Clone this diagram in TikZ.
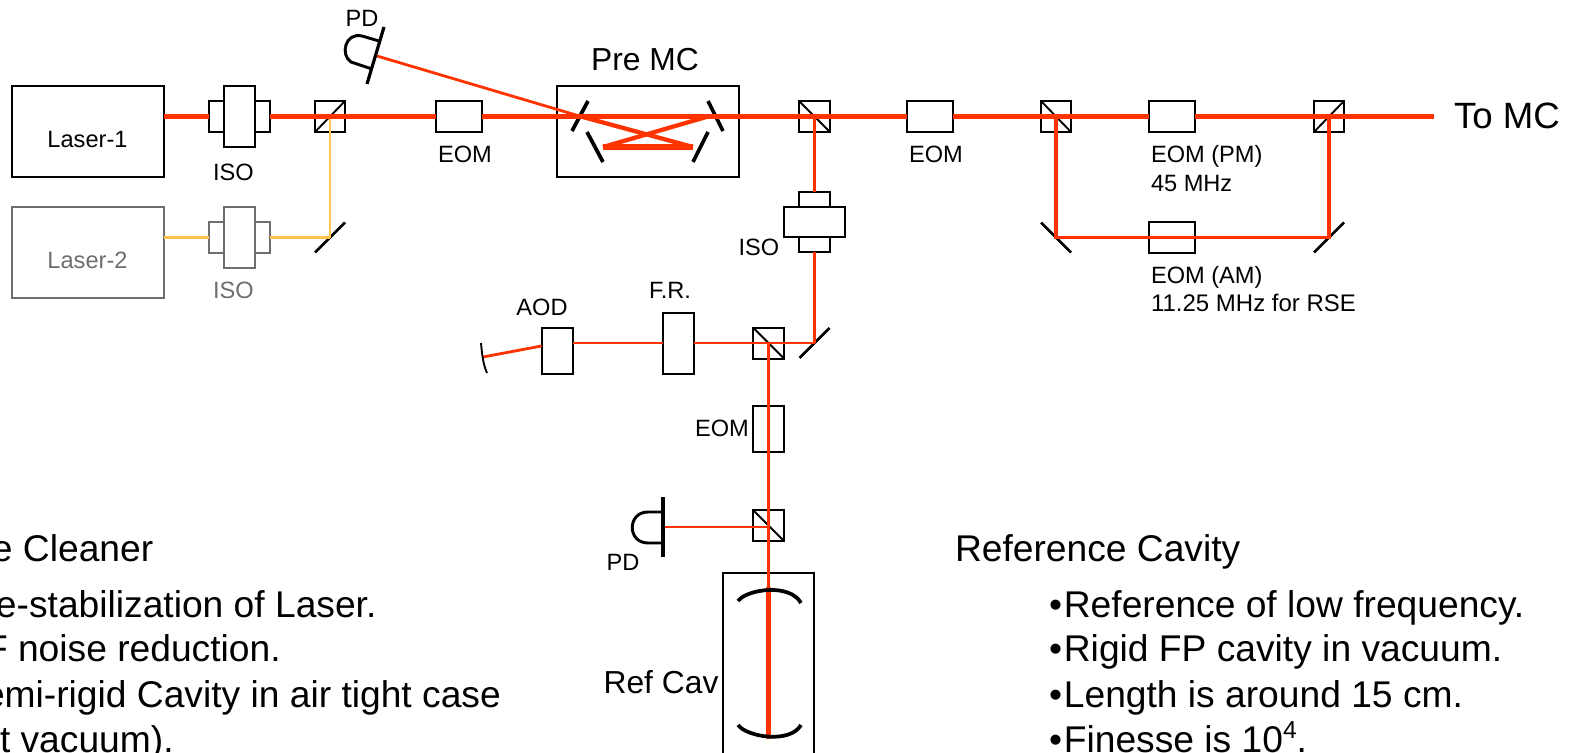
\documentclass[tikz,border=0pt]{standalone}
\usepackage{fontspec}
\usetikzlibrary{calc}
\setmainfont{Liberation Sans}
\newcommand{\fpx}[1]{\fontsize{\fpeval{#1*0.75}pt}{\fpeval{#1*0.9}pt}\selectfont}
\definecolor{beamred}{HTML}{FF3300}
\definecolor{beamyel}{HTML}{FFC34D}
\definecolor{dimgrey}{HTML}{6E6E6E}
\tikzset{
  bx/.style 2 args={draw=black,fill=white,line width=1.5pt,rectangle,inner sep=0pt,outer sep=0pt,
     minimum width=#1*0.75pt,minimum height=#2*0.75pt},
  lab/.style={inner sep=0pt,outer sep=0pt,text=black,font=\fpx{23.6}},
  big/.style={inner sep=0pt,outer sep=0pt,text=black,font=\fpx{31.8},anchor=center},
  info/.style={inner sep=0pt,outer sep=0pt,text=black,font=\fpx{37.2},anchor=base west},
  red1/.style={draw=beamred,line width=3.1pt},
  redm/.style={draw=beamred,line width=2.5pt},
  redt/.style={draw=beamred,line width=1.7pt},
  reds/.style={draw=beamred,line width=2.1pt},
  redc/.style={draw=beamred,line width=3.2pt},
  redv/.style={draw=beamred,line width=2.7pt},
  redx/.style={draw=beamred,line width=4.4pt},
  yel/.style={draw=beamyel,line width=2pt},
  mir/.style={draw=black,line width=1.9pt},
  opticm/.style={draw=black,line width=2.8pt},
  det/.style={draw=black,line width=2.2pt},
  diag/.style={draw=black,line width=1.4pt}
}
\newcommand{\bul}{•\kern0.05em}
\begin{document}
\begin{tikzpicture}[x=0.75pt,y=-0.75pt]
\useasboundingbox (0,0) rectangle (1575,753);
% lasers
\node[bx={152}{91}] (las1) at (88,131.5) {};
\node[lab] (las1t) at (87.5,139.5) {Laser-1};
\node[bx={152}{91},draw=dimgrey] (las2) at (88,252.5) {};
\node[lab,text=dimgrey] (las2t) at (87.5,260.5) {Laser-2};
% isolators
\node[bx={61}{31}] (iso1s) at (239.5,116.5) {};
\node[bx={31}{61}] (iso1) at (239.5,116.5) {};
\node[lab] (iso1t) at (233.5,172) {ISO};
\node[bx={61}{31},draw=dimgrey] (iso2s) at (239.5,237.5) {};
\node[bx={31}{61},draw=dimgrey] (iso2) at (239.5,237.5) {};
\node[lab,text=dimgrey] (iso2t) at (233.5,290) {ISO};
% beam splitters
\node[bx={30}{31}] (bs1) at (330,116.5) {};
\node[bx={31}{31}] (bs2) at (814.5,116.5) {};
\node[bx={31}{31}] (bs3) at (768.5,343) {};
\node[bx={31}{31}] (bs4) at (768.5,525.5) {};
\node[bx={30}{31}] (bs5) at (1056,116.5) {};
\node[bx={30}{31}] (bs6) at (1329,116.5) {};
\draw[diag] (bs1.south west) -- (bs1.north east);
\draw[diag] (bs2.north west) -- (bs2.south east);
\draw[diag] (bs3.north west) -- (bs3.south east);
\draw[diag] (bs4.north west) -- (bs4.south east);
\draw[diag] (bs5.north west) -- (bs5.south east);
\draw[diag] (bs6.south west) -- (bs6.north east);
% EOMs
\node[bx={46}{31}] (eom1) at (459,116.5) {};
\node[lab] (eom1t) at (465,154) {EOM};
\node[bx={46}{31}] (eom2) at (930,116.5) {};
\node[lab] (eom2t) at (936,154) {EOM};
\node[bx={46}{31}] (pm) at (1172,116.5) {};
\node[bx={46}{31}] (am) at (1172,237.5) {};
\node[lab,anchor=base west] (pmt1) at (1151,162) {EOM (PM)};
\node[lab,anchor=base west] (pmt2) at (1151,191) {45 MHz};
\node[lab,anchor=base west] (amt1) at (1151,283) {EOM (AM)};
\node[lab,anchor=base west,font=\fpx{24}] (amt2) at (1151,311) {11.25 MHz for RSE};
\node[bx={31}{46}] (eom3) at (768.5,429) {};
\node[lab] (eom3t) at (722,428.5) {EOM};
% Pre MC
\node[bx={182}{91}] (pmc) at (648,131.5) {};
\node[big] (pmct) at (645,59.5) {Pre MC};
% ISO vertical
\node[bx={31}{60}] (iso3s) at (814.5,222) {};
\node[bx={61}{30}] (iso3) at (814.5,222) {};
\node[lab] (iso3t) at (759,247) {ISO};
% AOD, FR
\node[bx={31}{46}] (aod) at (557,351) {};
\node[lab] (aodt) at (542,307.5) {AOD};
\node[bx={31}{61}] (fr) at (678.5,343.5) {};
\node[lab] (frt) at (670,290) {F.R.};
% Ref cav
\node[bx={91}{240},line width=1.3pt] (rc) at (768.5,693) {};
\node[big] (rct) at (661,682) {Ref Cav};
% free points
\coordinate (tomc) at (1434,116.5);
\coordinate (m1) at (330,237.5);
\coordinate (m2) at (814.5,343);
\coordinate (m3) at (1056,237.5);
\coordinate (m4) at (1329,237.5);
\coordinate (pd1) at (377,56);
\coordinate (pd2) at (663,527);
\coordinate (pm1) at (581,116.5);
\coordinate (pm2) at (708,116.5);
\coordinate (pm3) at (603,147);
\coordinate (pm4) at (693,147);
\coordinate (amir) at (483,357);
\coordinate (aodb) at (541.5,346);
\coordinate (rc1) at (768.5,587);
\coordinate (rc2) at (768.5,739);
% mirrors
\draw[mir] ($(m1)+(-15,15)$) -- ($(m1)+(15,-15)$);
\draw[mir] ($(m2)+(-15,15)$) -- ($(m2)+(15,-15)$);
\draw[mir] ($(m3)+(-15,-15)$) -- ($(m3)+(15,15)$);
\draw[mir] ($(m4)+(-15,15)$) -- ($(m4)+(15,-15)$);
% Pre MC mirrors
\draw[opticm] (588,101) -- (572,131);
\draw[opticm] (708,101) -- (723,131);
\draw[opticm] (587,132) -- (603,162);
\draw[opticm] (708,132) -- (693,162);
% yellow
\draw[yel] (las2.east |- m1) -- (iso2s.west);
\draw[yel] (iso2s.east) -- (m1);
\draw[yel] (m1) -- (bs1.center);
% main beams
\draw[red1] (las1.east |- iso1s.west) -- (iso1s.west);
\draw[red1] (iso1s.east) -- (eom1.west);
\draw[red1] (eom1.east) -- (eom2.west);
\draw[red1] (eom2.east) -- (pm.west);
\draw[red1] (pm.east) -- (tomc);
\draw[reds] (pd1) -- (pm1);
\draw[redc] (pm1) -- (pm4);
\draw[redc] (pm2) -- (pm3);
\draw[redx] (pm3) -- (pm4);
% RSE loop
\draw[redm] (bs5.center) -- (m3) -- (m4) -- (bs6.center);
% lower branch
\draw[reds] (bs2.center) -- (iso3s.north);
\draw[reds] (iso3s.south) -- (m2);
\draw[redt] (m2) -- (fr.east |- m2);
\draw[redt] (fr.west |- m2) -- (aod.east |- m2);
\draw[reds] (aodb) -- (amir);
\draw[draw=black,line width=1.4pt] (481,343) .. controls (482,354) and (483,364) .. (487,373);
\draw[redv] (bs3.center) -- (rc1);
\draw[redx] (rc1) -- (rc2);
\draw[redt] (bs4.center |- pd2) -- (pd2);
% Ref cavity mirrors
\draw[opticm] (738,601) .. controls (747,589) and (790,583) .. (801,603);
\draw[opticm] (738,725) .. controls (747,737) and (790,744) .. (801,725);
% PDs
\draw[opticm,line width=2.4pt] (384,27) -- (367,84);
\draw[det] (379,41) -- (362,36) .. controls (345,32) and (340,55) .. (351,62) -- (372,69);
\node[lab] (pd1t) at (362,18) {PD};
\draw[opticm,line width=2.4pt] (663,497) -- (663,557);
\draw[det] (663,512) -- (648,512) .. controls (627,512) and (627,543) .. (648,543) -- (663,543);
\node[lab] (pd2t) at (623,562) {PD};
\node[inner sep=0pt,outer sep=0pt,anchor=west,font=\fpx{36.6}] (tomct) at (1454,116) {To MC};
% text blocks
\node[info] (a0) at (-8,561) {e Cleaner};
\node[info] (a1) at (-4,617) {e-stabilization of Laser.};
\node[info] (a2) at (-15,661) {F noise reduction.};
\node[info] (a3) at (-16,707) {emi-rigid Cavity in air tight case};
\node[info] (a4) at (0,752) {t vacuum).};
\node[info] (b0) at (955,561) {Reference Cavity};
\node[info] (b1) at (1049,617) {\bul Reference of low frequency.};
\node[info] (b2) at (1049,661) {\bul Rigid FP cavity in vacuum.};
\node[info] (b3) at (1049,707) {\bul Length is around 15 cm.};
\node[info] (b4) at (1049,752) {\bul Finesse is 10\raisebox{0.36em}{\fpx{24.5}4}.};
\end{tikzpicture}
\end{document}
